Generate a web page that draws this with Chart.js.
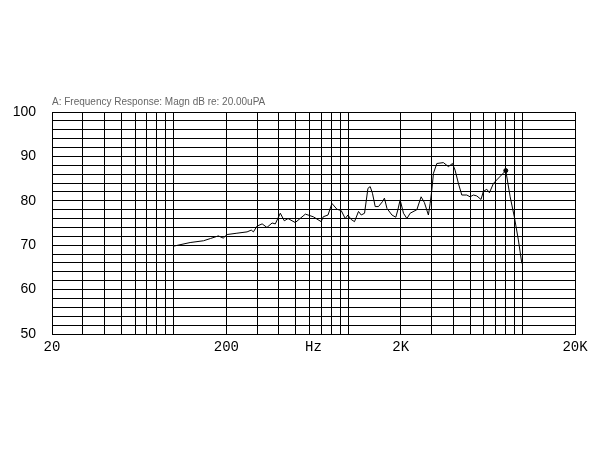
<!DOCTYPE html>
<html lang="en">
<head>
  <meta charset="UTF-8">
  <title>Frequency Response</title>
  <script src="https://cdn.jsdelivr.net/npm/chart.js"></script>
  <style>
    body { margin: 0; background: #fff; }
    canvas { display: block; }
  </style>
</head>
<body>
  <canvas id="chartCanvas" width="600" height="450"></canvas>

  <script>
    // response curve
    const freqs = [100, 124, 148, 162, 180, 192, 202, 230, 263, 278, 286, 300, 321, 342, 366, 382,
      408, 430, 452, 497, 568, 631, 700, 719, 766, 807, 862, 912, 962, 996, 1040, 1087, 1146,
      1188, 1241, 1298, 1337, 1378, 1429, 1492, 1572, 1614, 1668, 1782, 1876, 1928, 1986, 2076,
      2172, 2267, 2477, 2620, 2737, 2885, 2952, 3018, 3084, 3224, 3517, 3758, 3963, 4104, 4288,
      4484, 4788, 5004, 5226, 5466, 5780, 5960, 6238, 6456, 6808, 7112, 8018, 8492, 8974, 9464, 9908];
    const levels = [69.8, 70.6, 71.0, 71.5, 72.1, 71.6, 72.4, 72.7, 73.0, 73.4, 73.0, 74.3, 74.8, 74.0, 75.0, 74.8,
      77.2, 75.5, 76.0, 75.1, 77.0, 76.4, 75.3, 76.4, 76.8, 79.4, 78.1, 77.8, 76.0, 76.8, 75.8, 75.3, 77.6,
      76.8, 77.2, 82.8, 83.2, 81.7, 78.7, 78.7, 79.8, 80.6, 78.3, 76.8, 76.3, 78.0, 80.2, 77.2,
      76.0, 77.2, 78.0, 80.9, 79.6, 76.8, 79.4, 82.4, 86.2, 88.4, 88.6, 87.7, 88.4, 86.9, 83.9,
      81.3, 81.3, 80.9, 81.3, 81.1, 80.3, 82.1, 82.6, 81.8, 83.9, 84.7, 86.8, 80.9, 76.4, 71.2, 65.9];

    // grid lines on the frequency axis and the labelled ones
    const freqGrid = [20, 30, 40, 50, 60, 70, 80, 90, 100, 200, 300, 400, 500, 600, 700, 800, 900,
      1000, 2000, 3000, 4000, 5000, 6000, 7000, 8000, 9000, 10000, 20000];
    const freqLabels = { 20: "20", 200: "200", 632: "Hz", 2000: "2K", 20000: "20K" };
    const unitTick = 632;
    // level grid every 2 dB, labels every 10
    const levelGrid = [50, 52, 54, 56, 58, 60, 62, 64, 66, 68, 70, 72, 74, 76, 78, 80,
      82, 84, 86, 88, 90, 92, 94, 96, 98, 100];
    const levelLabels = [50, 60, 70, 80, 90, 100];
    const markIndex = 74;

    const points = freqs.map((f, i) => ({ x: f, y: levels[i] }));

    const ctx = document.getElementById("chartCanvas").getContext("2d");
    new Chart(ctx, {
      type: "line",
      data: {
        datasets: [{
          label: "Magn dB",
          data: points,
          borderColor: "#000",
          borderWidth: 1,
          backgroundColor: "#000",
          fill: false,
          tension: 0,
          pointRadius: c => c.dataIndex === markIndex ? 2 : 0,
          pointHoverRadius: 0
        }]
      },
      options: {
        responsive: false,
        animation: false,
        layout: { padding: { left: 0, right: 25, top: 96, bottom: 96 } },
        plugins: {
          legend: { display: false },
          tooltip: { enabled: false },
          title: {
            display: true,
            text: "A: Frequency Response: Magn dB re: 20.00uPA",
            align: "start",
            fullSize: false,
            color: "#666",
            font: { family: "Liberation Sans", size: 10, weight: "normal" },
            padding: { top: 0, bottom: 4 }
          }
        },
        scales: {
          x: {
            type: "logarithmic",
            min: 20,
            max: 20000,
            afterBuildTicks: s => {
              s.ticks = freqGrid.concat([unitTick]).map(v => ({ value: v }));
            },
            afterFit: s => { s.height = 20; },
            grid: {
              color: c => c.tick && c.tick.value === unitTick ? "rgba(0,0,0,0)" : "#000",
              lineWidth: 1,
              drawTicks: false
            },
            border: { color: "#000" },
            ticks: {
              autoSkip: false,
              maxRotation: 0,
              padding: 5,
              color: "#000",
              font: { family: "Liberation Mono", size: 14 },
              callback: v => freqLabels[v] || ""
            }
          },
          y: {
            min: 50,
            max: 100,
            afterBuildTicks: s => {
              s.ticks = levelGrid.map(v => ({ value: v }));
            },
            afterFit: s => { s.width = 52; },
            grid: { color: "#000", lineWidth: 1, drawTicks: false },
            border: { color: "#000" },
            ticks: {
              autoSkip: false,
              padding: 16,
              color: "#000",
              font: { family: "Liberation Sans", size: 14 },
              callback: v => levelLabels.includes(v) ? String(v) : ""
            }
          }
        }
      }
    });
  </script>
</body>
</html>
